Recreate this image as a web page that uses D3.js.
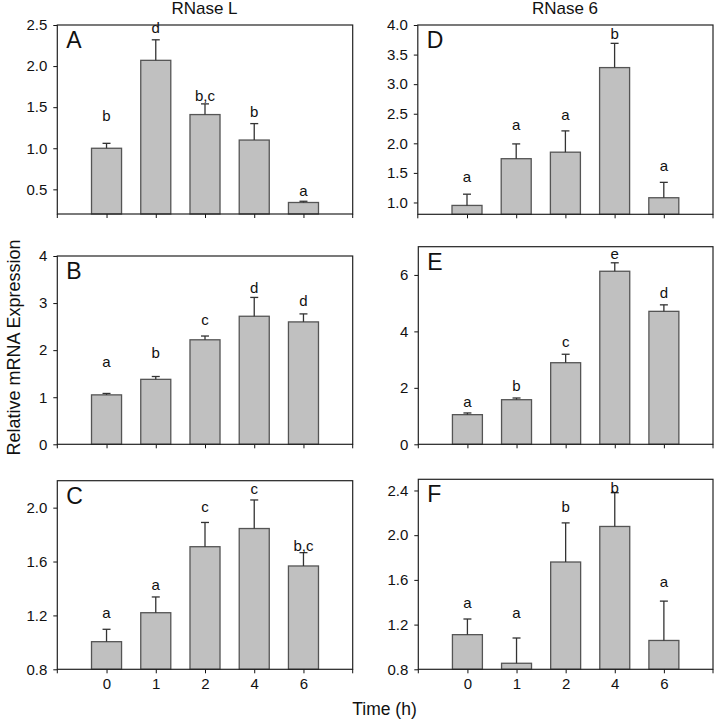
<!DOCTYPE html>
<html>
<head>
<meta charset="utf-8">
<script src="https://cdn.jsdelivr.net/npm/d3@7"></script>
<style>
  html, body { margin: 0; padding: 0; background: #fff; }
  svg { display: block; font-family: "Liberation Sans", Arial, sans-serif; }
</style>
</head>
<body>
<svg id="chart" width="717" height="720"></svg>
<script>
// ---------- data ----------
const times = ["0", "1", "2", "4", "6"];

// RNase L
const valuesA = [1.00, 2.07, 1.41, 1.10, 0.34];
const errTopA = [1.06, 2.32, 1.54, 1.30, 0.355];
const lettersA = ["b", "d", "b,c", "b", "a"];
const letterYA = [1.33, 2.40, 1.58, 1.38, 0.42];
const ticksA = [0.5, 1.0, 1.5, 2.0, 2.5];

const valuesB = [1.05, 1.38, 2.22, 2.72, 2.60];
const errTopB = [1.08, 1.44, 2.30, 3.12, 2.77];
const lettersB = ["a", "b", "c", "d", "d"];
const letterYB = [1.64, 1.84, 2.54, 3.21, 2.94];
const ticksB = [0, 1, 2, 3, 4];

const valuesC = [1.005, 1.22, 1.71, 1.845, 1.567];
const errTopC = [1.097, 1.337, 1.89, 2.057, 1.666];
const lettersC = ["a", "a", "c", "c", "b,c"];
const letterYC = [1.18, 1.39, 1.966, 2.10, 1.68];
const ticksC = [0.8, 1.2, 1.6, 2.0];

// RNase 6
const valuesD = [0.95, 1.74, 1.85, 3.28, 1.08];
const errTopD = [1.14, 1.99, 2.21, 3.69, 1.34];
const lettersD = ["a", "a", "a", "b", "a"];
const letterYD = [1.35, 2.22, 2.40, 3.76, 1.53];
const ticksD = [1.0, 1.5, 2.0, 2.5, 3.0, 3.5, 4.0];

const valuesE = [1.05, 1.58, 2.89, 6.13, 4.71];
const errTopE = [1.11, 1.64, 3.19, 6.43, 4.94];
const lettersE = ["a", "b", "c", "e", "d"];
const letterYE = [1.31, 1.90, 3.45, 6.55, 5.18];
const ticksE = [0, 2, 4, 6];

const valuesF = [1.11, 0.854, 1.76, 2.078, 1.058];
const errTopF = [1.25, 1.08, 2.11, 2.38, 1.41];
const lettersF = ["a", "a", "b", "b", "a"];
const letterYF = [1.345, 1.255, 2.21, 2.38, 1.534];
const ticksF = [0.8, 1.2, 1.6, 2.0, 2.4];

const colTitles = ["RNase L", "RNase 6"];
const yTitle = "Relative mRNA Expression";
const xTitle = "Time (h)";

// ---------- layout ----------
const panels = [
  { id: "A", values: valuesA, err: errTopA, letters: lettersA, letterY: letterYA, ticks: ticksA, domain: [0.2, 2.5], fmt: ".1f",
    box: { x0: 57.3, x1: 352.7, y0: 25, y1: 214 }, bottomRow: false },
  { id: "B", values: valuesB, err: errTopB, letters: lettersB, letterY: letterYB, ticks: ticksB, domain: [0, 4], fmt: "d",
    box: { x0: 57.3, x1: 352.7, y0: 256, y1: 444.3 }, bottomRow: false },
  { id: "C", values: valuesC, err: errTopC, letters: lettersC, letterY: letterYC, ticks: ticksC, domain: [0.8, 2.2], fmt: ".1f",
    box: { x0: 57.3, x1: 352.7, y0: 480.7, y1: 669.3 }, bottomRow: true },
  { id: "D", values: valuesD, err: errTopD, letters: lettersD, letterY: letterYD, ticks: ticksD, domain: [0.8, 4.0], fmt: ".1f",
    box: { x0: 417.8, x1: 713, y0: 25, y1: 214.3 }, bottomRow: false },
  { id: "E", values: valuesE, err: errTopE, letters: lettersE, letterY: letterYE, ticks: ticksE, domain: [0, 7], fmt: "d",
    box: { x0: 418.3, x1: 713, y0: 246.7, y1: 444.3 }, bottomRow: false },
  { id: "F", values: valuesF, err: errTopF, letters: lettersF, letterY: letterYF, ticks: ticksF, domain: [0.8, 2.5], fmt: ".1f",
    box: { x0: 418.3, x1: 713, y0: 479.3, y1: 669.3 }, bottomRow: true }
];

const svg = d3.select("#chart");
const FONT = "Liberation Sans, Arial, sans-serif";

panels.forEach(p => {
  const b = p.box;
  const g = svg.append("g");
  const x = d3.scalePoint().domain(times).range([b.x0, b.x1]).padding(1);
  const y = d3.scaleLinear().domain(p.domain).range([b.y1, b.y0]);
  const bw = x.step() * 0.61;

  // bars
  g.selectAll("rect.bar").data(p.values).join("rect")
    .attr("class", "bar")
    .attr("x", (d, i) => x(times[i]) - bw / 2)
    .attr("width", bw)
    .attr("y", d => y(d))
    .attr("height", d => y(p.domain[0]) - y(d))
    .attr("fill", "#c0c0c0")
    .attr("stroke", "#555")
    .attr("stroke-width", 1.3);

  // error bars (upper only)
  const eg = g.selectAll("g.err").data(p.err).join("g").attr("class", "err")
    .attr("stroke", "#333").attr("stroke-width", 1.3);
  eg.append("line")
    .attr("x1", (d, i) => x(times[i])).attr("x2", (d, i) => x(times[i]))
    .attr("y1", (d, i) => y(p.values[i])).attr("y2", d => y(d));
  eg.append("line")
    .attr("x1", (d, i) => x(times[i]) - 4).attr("x2", (d, i) => x(times[i]) + 4)
    .attr("y1", d => y(d)).attr("y2", d => y(d));

  // significance letters
  g.selectAll("text.sig").data(p.letters).join("text")
    .attr("class", "sig")
    .attr("x", (d, i) => x(times[i]))
    .attr("y", (d, i) => y(p.letterY[i]))
    .attr("text-anchor", "middle")
    .attr("font-size", 15)
    .attr("fill", "#111")
    .text(d => d);

  // y axis
  const ya = g.append("g").attr("transform", `translate(${b.x0},0)`)
    .call(d3.axisLeft(y).tickValues(p.ticks).tickFormat(d3.format(p.fmt)).tickSize(4).tickPadding(6));
  ya.select(".domain").remove();
  ya.selectAll("text").attr("font-size", 15).attr("fill", "#111").attr("font-family", FONT);
  ya.selectAll("line").attr("stroke", "#111");

  // x axis
  const xa = g.append("g").attr("transform", `translate(0,${b.y1})`)
    .call(d3.axisBottom(x).tickSize(4).tickPadding(5).tickFormat(p.bottomRow ? (d => d) : () => ""));
  xa.select(".domain").remove();
  xa.selectAll("text").attr("font-size", 15).attr("fill", "#111").attr("font-family", FONT);
  xa.selectAll("line").attr("stroke", "#111");

  // frame
  g.append("rect")
    .attr("x", b.x0).attr("y", b.y0)
    .attr("width", b.x1 - b.x0).attr("height", b.y1 - b.y0)
    .attr("fill", "none").attr("stroke", "#222").attr("stroke-width", 1.2);
  // edge ticks on x axis
  [b.x0, b.x1].forEach(xx => {
    g.append("line").attr("x1", xx).attr("x2", xx).attr("y1", b.y1).attr("y2", b.y1 + 4)
      .attr("stroke", "#111");
  });

  // panel letter
  g.append("text")
    .attr("x", b.x0 + 9).attr("y", b.y0 + 23)
    .attr("font-size", 23).attr("fill", "#111")
    .text(p.id);
});

// column titles
svg.append("text").attr("x", 204.5).attr("y", 14).attr("text-anchor", "middle")
  .attr("font-size", 17).attr("fill", "#111").text(colTitles[0]);
svg.append("text").attr("x", 565).attr("y", 14).attr("text-anchor", "middle")
  .attr("font-size", 17).attr("fill", "#111").text(colTitles[1]);

// y title
svg.append("text").attr("transform", "translate(20,347.5) rotate(-90)")
  .attr("text-anchor", "middle").attr("font-size", 18).attr("fill", "#111").text(yTitle);

// x title
svg.append("text").attr("x", 384.5).attr("y", 715).attr("text-anchor", "middle")
  .attr("font-size", 17.5).attr("fill", "#111").text(xTitle);
</script>
</body>
</html>
